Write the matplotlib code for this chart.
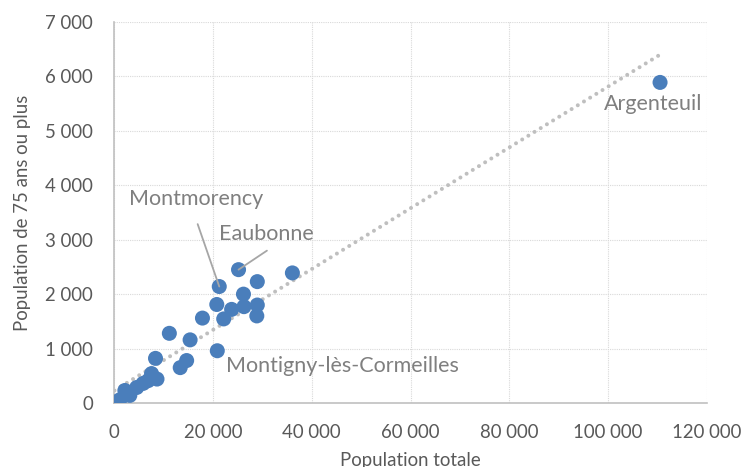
import numpy as np
import matplotlib
matplotlib.use("Agg")
import matplotlib.pyplot as plt
from matplotlib.ticker import FuncFormatter

# Data
pop_totale = [110500, 36100, 25200, 29000, 21300, 26200, 20800, 23800, 26300,
              29000, 28900, 22200, 17900, 11200, 15400, 20900, 8400, 14700,
              13400, 7600, 8700, 6900, 5900, 4600, 3200, 2200, 1200, 300, 700, 100]
pop_75plus = [5890, 2390, 2450, 2230, 2140, 2000, 1810, 1720, 1770,
              1800, 1600, 1545, 1560, 1280, 1160, 960, 820, 780,
              650, 540, 440, 410, 360, 285, 140, 230, 60, 10, 30, 0]
labels = {0: "Argenteuil", 4: "Montmorency", 2: "Eaubonne", 15: "Montigny-lès-Cormeilles"}
x_ticks = [0, 20000, 40000, 60000, 80000, 100000, 120000]
y_ticks = [0, 1000, 2000, 3000, 4000, 5000, 6000, 7000]

plt.rcParams['font.family'] = ['Lato', 'DejaVu Sans']

fig = plt.figure(figsize=(7.41, 4.67), dpi=100)
ax = fig.add_axes([114/741, 1-403/467, (707-114)/741, (403-22)/467])

x = np.array(pop_totale, dtype=float)
y = np.array(pop_75plus, dtype=float)

# trend line
slope, intercept = np.polyfit(x, y, 1)
xt = np.array([x.min(), x.max()])
ax.plot(xt, slope*xt + intercept, color='#bfbfbf', lw=2.9,
        linestyle=(0, (0.001, 1.8)), dash_capstyle='round', zorder=2)

ax.scatter(x, y, s=117, color='#4A7EBB', edgecolors='none', zorder=3)

ax.set_xlim(0, 120000)
ax.set_ylim(0, 7000)
ax.set_xticks(x_ticks)
ax.set_yticks(y_ticks)
fmt = FuncFormatter(lambda v, p: f"{int(v):,}".replace(",", " "))
ax.xaxis.set_major_formatter(fmt)
ax.yaxis.set_major_formatter(fmt)
ax.tick_params(axis='both', length=0, labelsize=13.4, colors='#595959')
ax.tick_params(axis='y', pad=15)
ax.tick_params(axis='x', pad=15)

ax.grid(True, color='#d9d9d9', linestyle=(0, (1, 1)), lw=0.8)
ax.set_axisbelow(True)
for s in ['top', 'right']:
    ax.spines[s].set_visible(False)
for s in ['left', 'bottom']:
    ax.spines[s].set_color('#c0c0c0')
    ax.spines[s].set_linewidth(1.2)

ax.set_xlabel("Population totale", fontsize=13.4, color='#595959', labelpad=8)
ax.set_ylabel("Population de 75 ans ou plus", fontsize=13.4, color='#595959', labelpad=10)

# data labels
offsets = {0: (-7, -22), 4: (-23, 88), 2: (28, 36), 15: (125, -15)}
for i, name in labels.items():
    ax.annotate(name, xy=(x[i], y[i]), xytext=offsets[i], textcoords='offset pixels',
                ha='center', va='center', fontsize=15.5, color='#7f7f7f', zorder=5)

# leader lines
leaders = {4: (-21.6, 62.4), 2: (28.4, 19)}
for i, off in leaders.items():
    ax.annotate('', xy=(x[i], y[i]), xytext=off, textcoords='offset pixels',
                arrowprops=dict(arrowstyle='-', color='#a6a6a6', lw=1.3,
                                shrinkA=0, shrinkB=0), zorder=4)

fig.savefig("out.png", dpi=100)
